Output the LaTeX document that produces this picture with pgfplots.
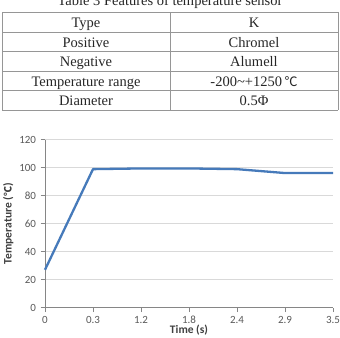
\documentclass[border=0pt]{standalone}
\usepackage{pgfplots}
\pgfplotsset{compat=1.18}
\usepackage{fontspec}
\setmainfont{Liberation Serif}
\newfontfamily\chartfont{Carlito}
\newfontfamily\cjk{Noto Sans CJK SC}
\definecolor{rule}{RGB}{150,150,150}
\definecolor{gridc}{RGB}{217,217,217}
\definecolor{axisc}{RGB}{134,134,134}
\definecolor{ticktext}{RGB}{89,89,89}
\definecolor{labeltext}{RGB}{64,64,64}
\definecolor{series}{RGB}{70,122,186}
\begin{document}
\begin{tikzpicture}
\useasboundingbox (0,0) rectangle (340bp,338bp);
\clip (0,0) rectangle (340bp,338bp);

% --- Table 3 ---
\node[anchor=base, font=\fontsize{14.5bp}{16bp}\selectfont, text=black!85]
  at (170bp,332.5bp) {Table 3 Features of temperature sensor};
\begin{scope}[draw=rule, line width=0.9bp]
  \foreach \p in {12.5,32,51.5,71,90.5,110} {
    \draw (2bp,{(338-\p)*1bp}) -- (338bp,{(338-\p)*1bp});
  }
  \foreach \xx in {2,170,338} {
    \draw (\xx bp,{(338-12.5)*1bp}) -- (\xx bp,{(338-110)*1bp});
  }
\end{scope}
\begin{scope}[every node/.style={anchor=base, font=\fontsize{14.5bp}{16bp}\selectfont, text=black!85}]
  \node at (86bp,{(338-27.5)*1bp}) {Type};
  \node at (254bp,{(338-27.5)*1bp}) {K};
  \node at (86bp,{(338-47)*1bp}) {Positive};
  \node at (254bp,{(338-47)*1bp}) {Chromel};
  \node at (86bp,{(338-66.5)*1bp}) {Negative};
  \node at (254bp,{(338-66.5)*1bp}) {Alumell};
  \node at (86bp,{(338-86)*1bp}) {Temperature range};
  \node at (254bp,{(338-86)*1bp}) {-200\textasciitilde+1250\,{\cjk\fontsize{13bp}{14bp}\selectfont ℃}};
  \node at (86bp,{(338-105.5)*1bp}) {Diameter};
  \node at (254bp,{(338-105.5)*1bp}) {0.5Φ};
\end{scope}

% --- Temperature response chart ---
\begin{axis}[
  at={(45bp,30.5bp)}, anchor=south west,
  scale only axis, width=288bp, height=167.7bp,
  xmin=0, xmax=6, ymin=0, ymax=120,
  xtick={0,1,2,3,4,5,6},
  xticklabels={0,0.3,1.2,1.8,2.4,2.9,3.5},
  ytick={0,20,40,60,80,100,120},
  ymajorgrids, grid style={draw=gridc, line width=0.9bp},
  axis x line*=bottom, axis y line*=left,
  axis line style={draw=axisc, line width=0.8bp, -},
  tick style={draw=axisc, line width=0.8bp},
  tick align=outside, major tick length=4.5bp,
  separate axis lines,
  x axis line style={-}, y axis line style={-},
  ticklabel style={font=\chartfont\fontsize{11bp}{13bp}\selectfont, text=ticktext},
  /pgf/number format/assume math mode=true,
  xticklabel style={yshift=-0.5bp},
  yticklabel style={xshift=-1bp},
  xlabel={\bfseries Time (s)},
  ylabel={\bfseries Temperature ({\cjk\fontsize{10bp}{12bp}\selectfont ℃})},
  label style={font=\chartfont\fontsize{11.5bp}{13bp}\selectfont, text=labeltext},
  xlabel style={yshift=5bp},
  ylabel style={yshift=-1bp},
  clip=false,
]
\addplot[series, line width=2.3bp, line join=round] coordinates {
  (0,27) (1,99) (2,99.5) (3,99.5) (4,99) (5,96.2) (6,96.2)
};
\end{axis}
\end{tikzpicture}
\end{document}
